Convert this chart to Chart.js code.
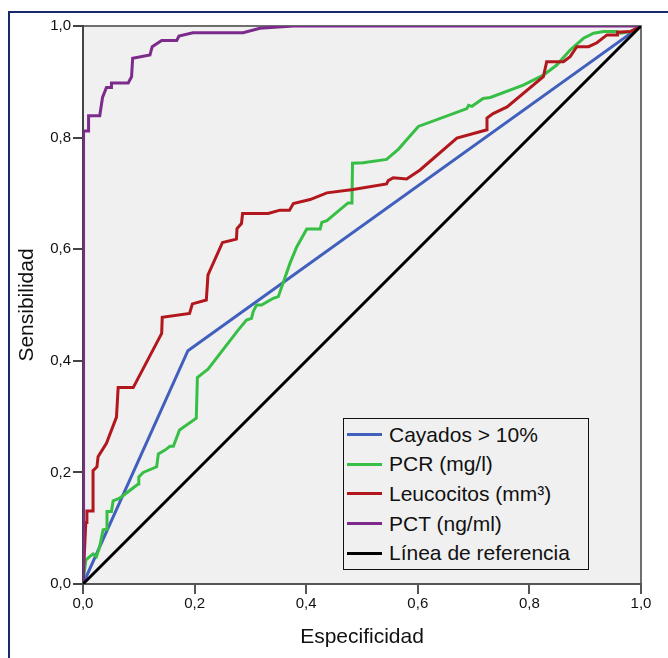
<!DOCTYPE html>
<html>
<head>
<meta charset="utf-8">
<script src="https://cdn.jsdelivr.net/npm/chart.js@4.4.0/dist/chart.umd.min.js"></script>
<style>
    body { margin: 0; background: #fff; }
    #wrap { position: relative; width: 668px; height: 658px; overflow: hidden; }
    #frame {
        position: absolute; left: 8px; top: 11px; width: 700px; height: 700px;
        border-top: 2px solid #17296b; border-left: 2px solid #17296b;
    }
    #rocChart { position: absolute; left: 0; top: 0; }
    #legend {
        position: absolute; left: 343px; top: 418px; width: 244px;
        border: 1px solid #111; background: #f0f0f0; padding: 1px 0;
        font-family: 'Liberation Sans', Arial, sans-serif; font-size: 21px; color: #111;
    }
    #legend .row { display: flex; align-items: center; height: 29.6px; }
    #legend .swatch { width: 35px; height: 3px; margin: 0 7px 0 3px; }
</style>
</head>
<body>
<div id="wrap">
    <div id="frame"></div>
    <canvas id="rocChart" width="668" height="658"></canvas>
    <div id="legend"></div>
</div>
<script>
/** --------------------ROC DATA (1 - especificidad, sensibilidad)-------------------- */

const tickValues = [0, 0.2, 0.4, 0.6, 0.8, 1.0];

const cayadosX = [0, 0.188, 1];
const cayadosY = [0, 0.418, 1];

const pcrX = [0, 0.005, 0.012, 0.018, 0.024, 0.030, 0.036, 0.042, 0.043, 0.051, 0.054, 0.066, 0.099, 0.100, 0.108,
    0.132, 0.135, 0.147, 0.156, 0.162, 0.173, 0.203, 0.205, 0.215, 0.224, 0.278, 0.293, 0.302, 0.305, 0.311, 0.320,
    0.341, 0.350, 0.371, 0.383, 0.401, 0.425, 0.428, 0.437, 0.475, 0.482, 0.483, 0.502, 0.544, 0.565, 0.601, 0.688,
    0.691, 0.697, 0.717, 0.730, 0.789, 0.825, 0.849, 0.873, 0.897, 0.915, 0.933, 0.957, 0.963, 0.981, 1];
const pcrY = [0, 0.043, 0.049, 0.054, 0.049, 0.067, 0.097, 0.098, 0.130, 0.130, 0.149, 0.154, 0.179, 0.192, 0.200,
    0.210, 0.233, 0.240, 0.247, 0.247, 0.276, 0.297, 0.370, 0.378, 0.385, 0.455, 0.473, 0.476, 0.488, 0.500, 0.500,
    0.512, 0.515, 0.575, 0.604, 0.636, 0.636, 0.648, 0.651, 0.683, 0.683, 0.754, 0.755, 0.761, 0.779, 0.820, 0.852,
    0.858, 0.856, 0.870, 0.872, 0.894, 0.912, 0.930, 0.957, 0.978, 0.987, 0.990, 0.990, 0.987, 0.990, 1];

const leucoX = [0, 0.005, 0.007, 0.007, 0.018, 0.018, 0.025, 0.027, 0.042, 0.060, 0.063, 0.090, 0.141, 0.142, 0.191,
    0.196, 0.221, 0.224, 0.250, 0.275, 0.276, 0.284, 0.286, 0.332, 0.353, 0.370, 0.377, 0.407, 0.437, 0.484, 0.544,
    0.547, 0.556, 0.580, 0.604, 0.670, 0.724, 0.724, 0.735, 0.760, 0.825, 0.831, 0.861, 0.873, 0.885, 0.906, 0.921,
    0.939, 0.957, 0.958, 0.981, 1];
const leucoY = [0, 0.110, 0.110, 0.131, 0.131, 0.203, 0.210, 0.228, 0.252, 0.299, 0.352, 0.352, 0.449, 0.478, 0.485,
    0.502, 0.509, 0.554, 0.612, 0.618, 0.637, 0.646, 0.664, 0.664, 0.670, 0.670, 0.682, 0.689, 0.701, 0.707, 0.717,
    0.723, 0.728, 0.726, 0.742, 0.799, 0.814, 0.835, 0.843, 0.855, 0.909, 0.936, 0.936, 0.945, 0.963, 0.963, 0.970,
    0.984, 0.984, 0.989, 0.990, 1];

const pctX = [0, 0.001, 0.010, 0.010, 0.030, 0.035, 0.042, 0.051, 0.051, 0.081, 0.087, 0.089, 0.120, 0.124, 0.141,
    0.168, 0.172, 0.197, 0.287, 0.317, 0.377, 1];
const pctY = [0, 0.812, 0.812, 0.839, 0.839, 0.872, 0.890, 0.890, 0.898, 0.898, 0.909, 0.942, 0.948, 0.963, 0.974,
    0.974, 0.982, 0.988, 0.988, 0.996, 1.000, 1];

const refX = [0, 1];
const refY = [0, 1];

const seriesLabels = ['Cayados > 10%', 'PCR (mg/l)', 'Leucocitos (mm³)', 'PCT (ng/ml)', 'Línea de referencia'];
const seriesColors = ['#4160bd', '#37bf45', '#b1171d', '#7c2a8c', '#000000'];

/** --------------------END DATA-------------------- */

function toPoints(xs, ys) {
    return xs.map((x, i) => ({x: x, y: ys[i]}));
}

function formatTick(value) {
    return value.toFixed(1).replace('.', ',');
}

function fixScale(scale) {
    if (scale.isHorizontal()) {
        scale.height = 74;
    } else {
        scale.width = 83;
    }
    scale.paddingLeft = 0;
    scale.paddingRight = 0;
    scale.paddingTop = 0;
    scale.paddingBottom = 0;
}

const plotBackground = {
    id: 'plotBackground',
    beforeDraw(chart) {
        const {ctx, chartArea: a} = chart;
        ctx.save();
        ctx.fillStyle = '#f0f0f0';
        ctx.fillRect(a.left, a.top, a.right - a.left, a.bottom - a.top);
        ctx.strokeStyle = '#6f6f6f';
        ctx.lineWidth = 2;
        ctx.beginPath();
        ctx.moveTo(a.left, a.top);
        ctx.lineTo(a.right, a.top);
        ctx.lineTo(a.right, a.bottom);
        ctx.stroke();
        ctx.restore();
    }
};

const allX = [cayadosX, pcrX, leucoX, pctX, refX];
const allY = [cayadosY, pcrY, leucoY, pctY, refY];
const drawOrder = [4, 3, 2, 1, 0];

const datasets = seriesLabels.map((label, i) => ({
    label: label,
    data: toPoints(allX[i], allY[i]),
    borderColor: seriesColors[i],
    backgroundColor: seriesColors[i],
    borderWidth: 3,
    pointRadius: 0,
    showLine: true,
    tension: 0,
    order: drawOrder[i]
}));

const axisFont = {family: "'Liberation Sans', Arial, sans-serif", size: 15};
const titleFont = {family: "'Liberation Sans', Arial, sans-serif", size: 21};

const ctx = document.getElementById('rocChart').getContext('2d');
const rocChart = new Chart(ctx, {
    type: 'scatter',
    data: {datasets: datasets},
    options: {
        responsive: false,
        animation: false,
        layout: {padding: {top: 26, right: 27, left: 0, bottom: 0}},
        plugins: {
            legend: {display: false},
            tooltip: {enabled: false}
        },
        scales: {
            x: {
                type: 'linear',
                min: 0,
                max: 1,
                afterFit: fixScale,
                afterBuildTicks: (scale) => { scale.ticks = tickValues.map(v => ({value: v})); },
                ticks: {callback: formatTick, font: axisFont, color: '#111', padding: 1, maxRotation: 0},
                grid: {drawOnChartArea: false, drawTicks: true, tickLength: 10, color: '#555', lineWidth: 2},
                border: {display: true, color: '#555', width: 2},
                title: {display: true, text: 'Especificidad', font: titleFont, color: '#111',
                    padding: {top: 0, bottom: 8}}
            },
            y: {
                type: 'linear',
                min: 0,
                max: 1,
                afterFit: fixScale,
                afterBuildTicks: (scale) => { scale.ticks = tickValues.map(v => ({value: v})); },
                ticks: {callback: formatTick, font: axisFont, color: '#111', padding: 2},
                grid: {drawOnChartArea: false, drawTicks: true, tickLength: 10, color: '#444', lineWidth: 2},
                border: {display: true, color: '#444', width: 2},
                title: {display: true, text: 'Sensibilidad', font: titleFont, color: '#111',
                    padding: {top: 15, bottom: 0}}
            }
        }
    },
    plugins: [plotBackground]
});

function buildLegend(chart) {
    const box = document.getElementById('legend');
    chart.data.datasets.forEach(ds => {
        const row = document.createElement('div');
        row.classList.add('row');
        const swatch = document.createElement('span');
        swatch.classList.add('swatch');
        swatch.style.background = ds.borderColor;
        const text = document.createElement('span');
        text.textContent = ds.label;
        row.appendChild(swatch);
        row.appendChild(text);
        box.appendChild(row);
    });
}

buildLegend(rocChart);
</script>
</body>
</html>
